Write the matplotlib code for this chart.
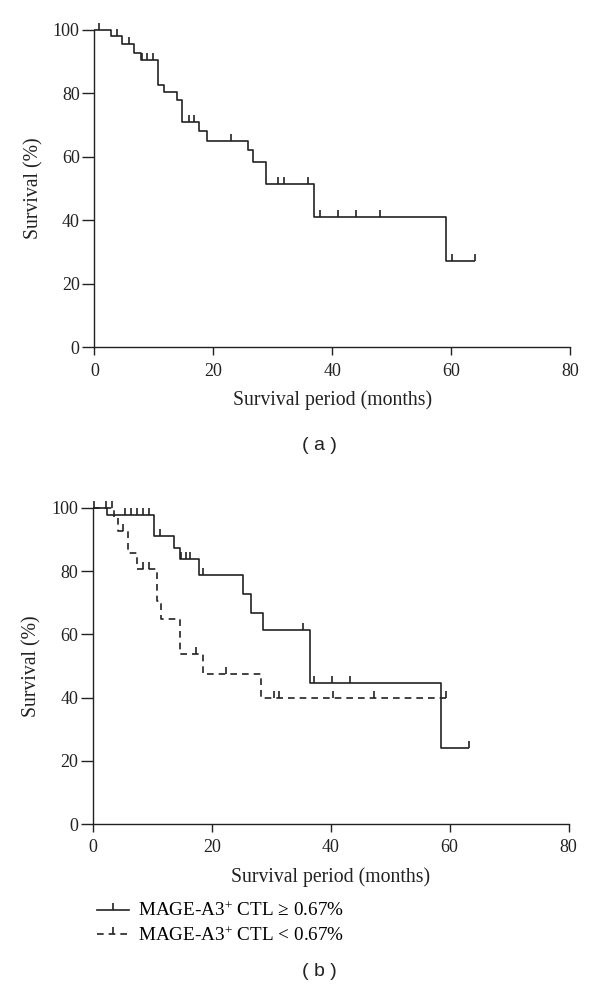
import matplotlib
matplotlib.use("Agg")
import matplotlib.pyplot as plt
from matplotlib.path import Path
from matplotlib.lines import Line2D
import numpy as np

plt.rcParams['font.family'] = ['Liberation Serif', 'DejaVu Serif']
plt.rcParams['mathtext.fontset'] = 'custom'
plt.rcParams['mathtext.rm'] = 'Liberation Serif'
plt.rcParams['mathtext.it'] = 'Liberation Serif:italic'

# ---------------- data ----------------
# Panel (a): all patients
a_times = [0, 2.8, 4.7, 6.7, 7.8, 10.7, 11.7, 13.9, 14.7, 17.6, 18.9, 25.8, 26.7, 28.9, 36.9, 59.1]
a_surv = [100, 98.0, 95.6, 92.6, 90.5, 82.6, 80.5, 77.9, 70.9, 68.2, 65.1, 62.1, 58.3, 51.4, 40.9, 27.2]
a_end = 63.9
a_censor = [0.8, 3.8, 5.9, 8.0, 8.8, 9.9, 15.9, 16.8, 22.9, 30.8, 31.9, 35.9, 37.9, 41.0, 44.0, 48.0, 60.1, 63.9]

# Panel (b): MAGE-A3+ CTL >= 0.67%
hi_times = [0, 2.4, 10.3, 13.7, 14.6, 17.8, 25.3, 26.6, 28.6, 36.5, 58.5]
hi_surv = [100, 97.8, 91.1, 87.4, 83.9, 78.8, 72.8, 66.7, 61.4, 44.7, 24.0]
hi_end = 63.2
hi_censor = [0.3, 2.2, 5.4, 6.4, 7.4, 8.4, 9.4, 11.3, 14.9, 15.7, 16.4, 18.5, 35.3, 37.2, 40.3, 43.2, 63.2]

# Panel (b): MAGE-A3+ CTL < 0.67%
lo_times = [0, 3.5, 4.3, 6.0, 7.5, 10.8, 11.5, 14.7, 18.6, 28.3]
lo_surv = [100, 96.7, 92.8, 85.7, 80.6, 70.7, 64.8, 53.8, 47.5, 39.8]
lo_end = 59.3
lo_censor = [3.3, 5.1, 8.5, 9.4, 17.3, 22.4, 30.4, 31.3, 40.4, 47.3, 59.3]

x_ticks = [0, 20, 40, 60, 80]
y_ticks = [0, 20, 40, 60, 80, 100]
xlabel = "Survival period (months)"
ylabel = "Survival (%)"
legend_labels = ["MAGE-A3$^{+}$ CTL \u2265 0.67%", "MAGE-A3$^{+}$ CTL < 0.67%"]

# ---------------- styling ----------------
INK = '#222222'
LW = 1.2
tick_marker = Path([[0, 0], [0, 1]], [Path.MOVETO, Path.LINETO])
DASH = (0, (4, 3))

fig = plt.figure(figsize=(6.0, 9.97), dpi=100)


def surv_at(times, surv, t):
    idx = np.searchsorted(np.asarray(times), t, side='right') - 1
    return np.asarray(surv)[idx]


def km(ax, times, surv, end, censor, ls):
    xs = list(times) + [end]
    ys = list(surv) + [surv[-1]]
    ax.step(xs, ys, where='post', color=INK, lw=LW, linestyle=ls,
            clip_on=False, solid_capstyle='butt', dash_capstyle='butt')
    cy = [surv_at(times, surv, c) for c in censor]
    ax.plot(censor, cy, linestyle='none', marker=tick_marker, markersize=10,
            markeredgewidth=LW, color=INK, clip_on=False)


def style(ax):
    ax.set_xlim(0, 80)
    ax.set_ylim(0, 100)
    ax.set_xticks(x_ticks)
    ax.set_yticks(y_ticks)
    for s in ['top', 'right']:
        ax.spines[s].set_visible(False)
    for s in ['left', 'bottom']:
        ax.spines[s].set_linewidth(1.0)
        ax.spines[s].set_color(INK)
    ax.tick_params(axis='x', direction='out', length=6, width=1.0, colors=INK,
                   labelsize=13, pad=5)
    ax.tick_params(axis='y', direction='out', length=8.5, width=1.0, colors=INK,
                   labelsize=13, pad=2)
    ax.set_xlabel(xlabel, fontsize=14.2, color=INK, labelpad=8)
    ax.set_ylabel(ylabel, fontsize=14.2, color=INK, labelpad=7)


ax_a = fig.add_axes([0.1572, 0.6517, 0.7933, 0.3183])
km(ax_a, a_times, a_surv, a_end, a_censor, '-')
style(ax_a)

ax_b = fig.add_axes([0.1545, 0.1735, 0.7933, 0.3170])
km(ax_b, hi_times, hi_surv, hi_end, hi_censor, '-')
km(ax_b, lo_times, lo_surv, lo_end, lo_censor, DASH)
style(ax_b)

handles = [
    Line2D([0], [0], color=INK, lw=LW, linestyle='-', marker=tick_marker,
           markersize=10, markeredgewidth=LW),
    Line2D([0], [0], color=INK, lw=LW, linestyle=DASH, marker=tick_marker,
           markersize=10, markeredgewidth=LW),
]
fig.legend(handles, legend_labels, loc='upper left',
           bbox_to_anchor=(0.161, 0.0955), frameon=False, fontsize=13.8,
           handlelength=1.7, handletextpad=0.45, labelspacing=0.3,
           borderpad=0.0, borderaxespad=0.0)

fig.text(0.533, 0.553, "( a )", fontsize=14, family=['Liberation Sans', 'DejaVu Sans'],
         ha='center', va='center', color=INK)
fig.text(0.533, 0.026, "( b )", fontsize=14, family=['Liberation Sans', 'DejaVu Sans'],
         ha='center', va='center', color=INK)

fig.savefig("out.png", dpi=100, facecolor='white')
